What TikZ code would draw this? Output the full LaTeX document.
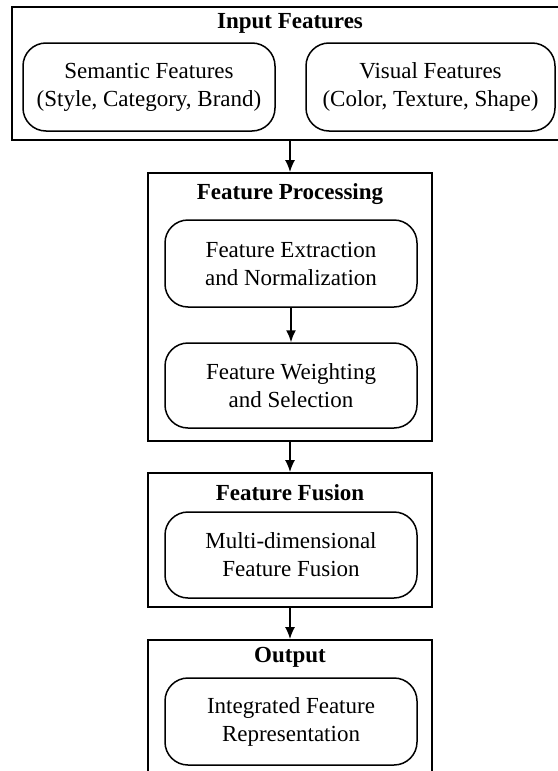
\documentclass[tikz,border=0pt]{standalone}
\usepackage{fontspec}
\setmainfont{Liberation Serif}
\usetikzlibrary{arrows.meta}
\begin{document}
\begin{tikzpicture}[x=1pt,y=-1pt,
  groupbox/.style={draw, line width=1.8pt, inner sep=0pt},
  titletext/.style={font=\fontsize{23}{28}\selectfont\bfseries, inner sep=0pt},
  itembox/.style={draw, line width=1.5pt, rounded corners=23pt, align=center, inner sep=0pt, font=\fontsize{23}{28}\selectfont},
  arr/.style={-{Latex[length=12pt,width=10pt]}, line width=1.6pt}]
\useasboundingbox (0,0) rectangle (557,771);
% Input features
\node[groupbox, minimum width=556pt, minimum height=133pt] (inp) at (290,73.5) {};
\node[titletext] (inpT) at (290,23) {Input Features};
\node[itembox, minimum width=252pt, minimum height=88pt] (sem) at (149,87) {Semantic Features\\(Style, Category, Brand)};
\node[itembox, minimum width=249pt, minimum height=88pt] (vis) at (430.5,87) {Visual Features\\(Color, Texture, Shape)};
% Feature processing
\node[groupbox, minimum width=284pt, minimum height=268pt] (proc) at (290,307) {};
\node[titletext] (procT) at (290,194) {Feature Processing};
\node[itembox, minimum width=252pt, minimum height=87pt] (ext) at (291,263.5) {Feature Extraction\\and Normalization};
\node[itembox, minimum width=252pt, minimum height=85pt] (wsel) at (291,385.5) {Feature Weighting\\and Selection};
% Feature fusion
\node[groupbox, minimum width=284pt, minimum height=134pt] (fuse) at (290,540) {};
\node[titletext] (fuseT) at (290,493) {Feature Fusion};
\node[itembox, minimum width=252pt, minimum height=86pt] (mdf) at (291,555) {Multi-dimensional\\Feature Fusion};
% Output
\node[groupbox, minimum width=284pt, minimum height=160pt] (outp) at (290,720) {};
\node[titletext] (outT) at (290,657) {Output};
\node[itembox, minimum width=252pt, minimum height=87pt] (ifr) at (291,721.5) {Integrated Feature\\Representation};
% Arrows
\draw[arr] (inp.south) -- (proc.north);
\draw[arr] (ext.south) -- (wsel.north);
\draw[arr] (proc.south) -- (fuse.north);
\draw[arr] (fuse.south) -- (outp.north);
\end{tikzpicture}
\end{document}
